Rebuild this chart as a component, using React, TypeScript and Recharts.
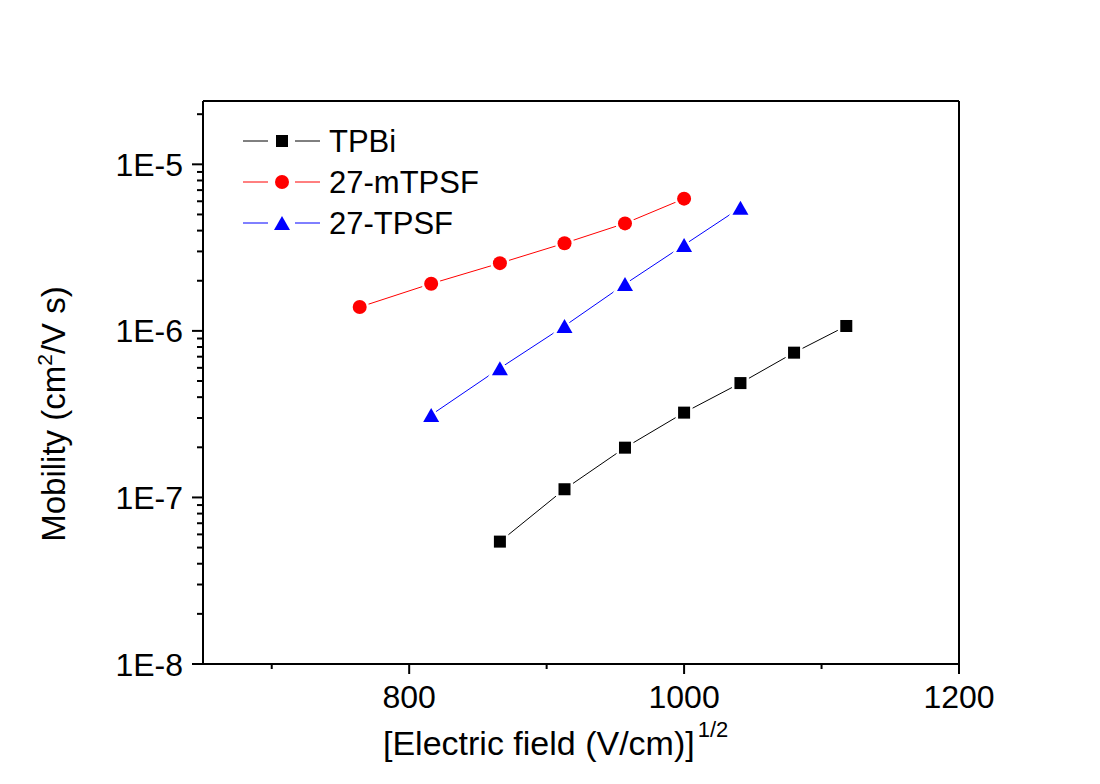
import React from 'react';
import { LineChart, Line, XAxis, YAxis, Legend } from 'recharts';

// ---- data ----
const tpbiX = [866, 913, 957, 1000, 1041, 1080, 1118];
const tpbiY = [5.43e-8, 1.12e-7, 1.99e-7, 3.23e-7, 4.86e-7, 7.4e-7, 1.07e-6];
const mtpsfX = [764, 816, 866, 913, 957, 1000];
const mtpsfY = [1.39e-6, 1.92e-6, 2.55e-6, 3.36e-6, 4.42e-6, 6.22e-6];
const tpsfX = [816, 866, 913, 957, 1000, 1041];
const tpsfY = [3.13e-7, 5.97e-7, 1.07e-6, 1.91e-6, 3.28e-6, 5.49e-6];

const seriesNames = ['TPBi', '27-mTPSF', '27-TPSF'];
const seriesColors = ['#000000', '#ff0000', '#0000ff'];
const seriesMarkers = ['square', 'circle', 'triangle'];

const xMajorTicks = [800, 1000, 1200];
const xMinorTicks = [700, 900, 1100];
const yMajorTicks = [1e-8, 1e-7, 1e-6, 1e-5];
const yMajorLabels = ['1E-8', '1E-7', '1E-6', '1E-5'];
const yMinorTicks = [
  2e-8, 3e-8, 4e-8, 5e-8, 6e-8, 7e-8, 8e-8, 9e-8,
  2e-7, 3e-7, 4e-7, 5e-7, 6e-7, 7e-7, 8e-7, 9e-7,
  2e-6, 3e-6, 4e-6, 5e-6, 6e-6, 7e-6, 8e-6, 9e-6,
  2e-5,
];
const xDomain = [650, 1200];
const yDomain = [1e-8, 2.4e-5];

const toRows = (xs: number[], ys: number[]) => xs.map((x, i) => ({ x, y: ys[i] }));
const seriesData = [toRows(tpbiX, tpbiY), toRows(mtpsfX, mtpsfY), toRows(tpsfX, tpsfY)];

const FONT = '"Liberation Sans", Arial, Helvetica, sans-serif';

function Marker({ cx, cy, kind, color }: { cx: number; cy: number; kind: string; color: string }) {
  const common = { fill: color, stroke: '#ffffff', strokeWidth: 5, paintOrder: 'stroke' as any };
  if (kind === 'square') {
    return <rect x={cx - 6} y={cy - 6} width={12} height={12} {...common} />;
  }
  if (kind === 'circle') {
    return <circle cx={cx} cy={cy} r={7} {...common} />;
  }
  return <polygon points={`${cx},${cy - 7} ${cx + 8},${cy + 7} ${cx - 8},${cy + 7}`} {...common} />;
}

const LegendContent = (props: any) => {
  const payload = [...(props.payload || [])].sort(
    (a: any, b: any) => seriesNames.indexOf(a.value) - seriesNames.indexOf(b.value)
  );
  return (
    <svg width={280} height={130} style={{ overflow: 'visible' }}>
      {payload.map((p: any, i: number) => {
        const idx = seriesNames.indexOf(p.value);
        const cy = 21 + i * 41;
        const color = seriesColors[idx];
        return (
          <g key={p.value}>
            <line x1={3} x2={28} y1={cy} y2={cy} stroke={color} strokeWidth={1} />
            <Marker cx={42} cy={cy} kind={seriesMarkers[idx]} color={color} />
            <line x1={55} x2={80} y1={cy} y2={cy} stroke={color} strokeWidth={1} />
            <text x={89} y={cy + 11} fontSize={31} fontFamily={FONT} fill="#000">
              {p.value}
            </text>
          </g>
        );
      })}
    </svg>
  );
};

const XTick = (props: any) => {
  const { x, y, payload } = props;
  const major = xMajorTicks.includes(payload.value);
  return (
    <g>
      <line x1={x} x2={x} y1={y} y2={y + (major ? 10 : 5)} stroke="#000" strokeWidth={2} />
      {major && (
        <text x={x} y={y + 44} textAnchor="middle" fontSize={32} fontFamily={FONT} fill="#000">
          {payload.value}
        </text>
      )}
    </g>
  );
};

const YTick = (props: any) => {
  const { x, y, payload } = props;
  const mi = yMajorTicks.findIndex((t) => Math.abs(t - payload.value) / t < 1e-6);
  const major = mi >= 0;
  return (
    <g>
      <line x1={x} x2={x - (major ? 11 : 6)} y1={y} y2={y} stroke="#000" strokeWidth={2} />
      {major && (
        <text x={x - 20} y={y + 11.5} textAnchor="end" fontSize={32} fontFamily={FONT} fill="#000">
          {yMajorLabels[mi]}
        </text>
      )}
    </g>
  );
};

const XTitle = () => (
  <text x={383} y={755} fontSize={34} fontFamily={FONT} fill="#000">
    [Electric field (V/cm)]
    <tspan dx={3} dy={-18} fontSize={22}>1/2</tspan>
  </text>
);

const YTitle = () => (
  <text transform="translate(65,414) rotate(-90)" textAnchor="middle" fontSize={33} fontFamily={FONT} fill="#000">
    Mobility (cm
    <tspan dy={-13} fontSize={21}>2</tspan>
    <tspan dy={13}>/V s)</tspan>
  </text>
);

const lineStyle = { stroke: '#000', strokeWidth: 2 };
const allXTicks = [...xMinorTicks, ...xMajorTicks].sort((a, b) => a - b);
const allYTicks = [...yMajorTicks, ...yMinorTicks].sort((a, b) => a - b);

export default function App() {
  return (
    <div style={{ position: 'absolute', left: 0, top: 0, width: 1100, height: 784, background: '#fff' }}>
      <LineChart width={1100} height={784} margin={{ top: 100, right: 140, bottom: 60, left: 143 }}>
        <XAxis
          xAxisId="main"
          type="number"
          dataKey="x"
          domain={xDomain}
          allowDataOverflow
          ticks={allXTicks}
          interval={0}
          height={60}
          tickSize={0}
          tickMargin={0}
          tick={<XTick />}
          tickLine={false}
          axisLine={lineStyle}
          label={<XTitle />}
        />
        <XAxis
          xAxisId="top"
          orientation="top"
          type="number"
          dataKey="x"
          domain={xDomain}
          allowDataOverflow
          height={1}
          tick={false}
          tickLine={false}
          axisLine={lineStyle}
        />
        <YAxis
          yAxisId="main"
          type="number"
          dataKey="y"
          scale="log"
          domain={yDomain}
          allowDataOverflow
          ticks={allYTicks}
          interval={0}
          width={60}
          tickSize={0}
          tickMargin={0}
          tick={<YTick />}
          tickLine={false}
          axisLine={lineStyle}
          label={<YTitle />}
        />
        <YAxis
          yAxisId="right"
          orientation="right"
          type="number"
          dataKey="y"
          scale="log"
          domain={yDomain}
          allowDataOverflow
          width={1}
          tick={false}
          tickLine={false}
          axisLine={lineStyle}
        />
        <Legend
          layout="vertical"
          align="center"
          verticalAlign="middle"
          wrapperStyle={{ left: 240, top: 120, width: 280, height: 130 }}
          content={<LegendContent />}
        />
        {seriesNames.map((name, i) => (
          <Line
            key={name}
            name={name}
            data={seriesData[i]}
            dataKey="y"
            xAxisId="main"
            yAxisId="main"
            stroke={seriesColors[i]}
            strokeWidth={1}
            isAnimationActive={false}
            dot={(p: any) => (
              <Marker key={`${name}-${p.index}`} cx={p.cx} cy={p.cy} kind={seriesMarkers[i]} color={seriesColors[i]} />
            )}
            activeDot={false}
          />
        ))}
      </LineChart>
    </div>
  );
}
